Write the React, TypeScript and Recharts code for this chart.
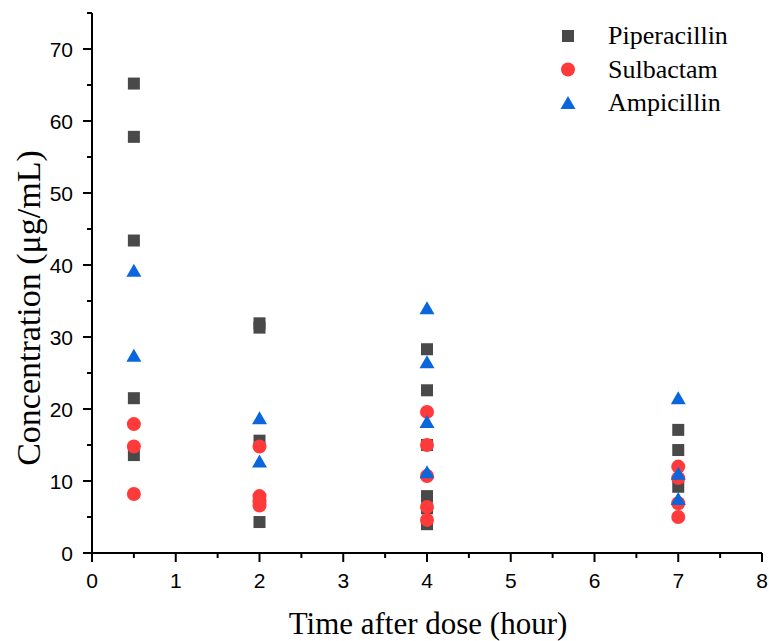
import { ScatterChart, Scatter, XAxis, YAxis, Legend, Label } from 'recharts';

const piperacillin = [
  { time: 0.5, conc: 65.2 }, { time: 0.5, conc: 57.8 }, { time: 0.5, conc: 43.4 },
  { time: 0.5, conc: 21.5 }, { time: 0.5, conc: 13.6 },
  { time: 2, conc: 31.9 }, { time: 2, conc: 31.3 }, { time: 2, conc: 15.6 }, { time: 2, conc: 4.3 },
  { time: 4, conc: 28.3 }, { time: 4, conc: 22.6 }, { time: 4, conc: 15.0 },
  { time: 4, conc: 7.9 }, { time: 4, conc: 6.2 }, { time: 4, conc: 4.0 },
  { time: 7, conc: 17.1 }, { time: 7, conc: 14.3 }, { time: 7, conc: 9.2 },
];

const sulbactam = [
  { time: 0.5, conc: 17.9 }, { time: 0.5, conc: 14.8 }, { time: 0.5, conc: 8.2 },
  { time: 2, conc: 14.8 }, { time: 2, conc: 7.9 }, { time: 2, conc: 7.2 }, { time: 2, conc: 6.6 },
  { time: 4, conc: 19.6 }, { time: 4, conc: 15.0 }, { time: 4, conc: 10.7 },
  { time: 4, conc: 6.4 }, { time: 4, conc: 4.6 },
  { time: 7, conc: 12.0 }, { time: 7, conc: 10.4 }, { time: 7, conc: 6.9 }, { time: 7, conc: 5.0 },
];

const ampicillin = [
  { time: 0.5, conc: 39.2 }, { time: 0.5, conc: 27.4 },
  { time: 2, conc: 18.7 }, { time: 2, conc: 12.7 },
  { time: 4, conc: 34.0 }, { time: 4, conc: 26.5 }, { time: 4, conc: 18.2 }, { time: 4, conc: 11.2 },
  { time: 7, conc: 21.5 }, { time: 7, conc: 11.0 }, { time: 7, conc: 7.5 },
];

const seriesNames = ['Piperacillin', 'Sulbactam', 'Ampicillin'];
const xTicks = [0, 0.5, 1, 1.5, 2, 2.5, 3, 3.5, 4, 4.5, 5, 5.5, 6, 6.5, 7, 7.5, 8];
const yTicks = [0, 5, 10, 15, 20, 25, 30, 35, 40, 45, 50, 55, 60, 65, 70, 75];

const GRAY = '#494949';
const RED = '#FF3A3A';
const BLUE = '#0A66DD';

const SERIF = '"Liberation Serif", "Times New Roman", serif';
const SANS = '"Liberation Sans", Arial, sans-serif';

const Marker = ({ kind, cx, cy, color }: { kind: string; cx: number; cy: number; color: string }) => {
  if (kind === 'square') return <rect x={cx - 6} y={cy - 6} width={12} height={12} fill={color} />;
  if (kind === 'circle') return <circle cx={cx} cy={cy} r={7} fill={color} />;
  return <polygon points={`${cx},${cy - 7} ${cx - 7.5},${cy + 6} ${cx + 7.5},${cy + 6}`} fill={color} />;
};

const XTick = (props: any) => {
  const { x, y, payload } = props;
  const major = Number.isInteger(payload.value);
  return (
    <g>
      <line x1={x} x2={x} y1={y} y2={y + (major ? 9 : 5)} stroke="#000" strokeWidth={2} />
      {major && (
        <text x={x} y={y + 35} textAnchor="middle" fontFamily={SANS} fontSize={21} fill="#000">
          {payload.value}
        </text>
      )}
    </g>
  );
};

const YTick = (props: any) => {
  const { x, y, payload } = props;
  const major = payload.value % 10 === 0;
  return (
    <g>
      <line x1={x - (major ? 9 : 5)} x2={x} y1={y} y2={y} stroke="#000" strokeWidth={2} />
      {major && (
        <text x={x - 19} y={y + 7.5} textAnchor="end" fontFamily={SANS} fontSize={21} fill="#000">
          {payload.value}
        </text>
      )}
    </g>
  );
};

const renderLegend = (props: any) => {
  const items = [...(props.payload || [])].sort(
    (a: any, b: any) => seriesNames.indexOf(a.value) - seriesNames.indexOf(b.value)
  );
  return (
    <svg width={230} height={125} style={{ display: 'block' }}>
      {items.map((p: any, i: number) => (
        <g key={p.value}>
          <Marker kind={p.type} cx={28} cy={26 + i * 33.5} color={p.color} />
          <text x={68} y={34 + i * 33.5} fontFamily={SERIF} fontSize={26} fill="#000">
            {p.value}
          </text>
        </g>
      ))}
    </svg>
  );
};

export default function App() {
  return (
    <div style={{ position: 'absolute', left: 0, top: 0, background: '#fff' }}>
      <ScatterChart width={769} height={641} margin={{ top: 13, right: 7, bottom: 0, left: 0 }}>
        <XAxis
          type="number"
          dataKey="time"
          domain={[0, 8]}
          ticks={xTicks}
          interval={0}
          tickSize={0}
          tickMargin={0}
          tickLine={false}
          tick={<XTick />}
          axisLine={{ stroke: '#000', strokeWidth: 2 }}
          height={88}
          allowDataOverflow
        >
          <Label
            content={() => (
              <text x={428} y={634} textAnchor="middle" fontFamily={SERIF} fontSize={31} fill="#000">
                Time after dose (hour)
              </text>
            )}
          />
        </XAxis>
        <YAxis
          type="number"
          dataKey="conc"
          domain={[0, 75]}
          ticks={yTicks}
          interval={0}
          tickSize={0}
          tickMargin={0}
          tickLine={false}
          tick={<YTick />}
          axisLine={{ stroke: '#000', strokeWidth: 2 }}
          width={92}
          allowDataOverflow
        >
          <Label
            content={() => (
              <text
                x={40}
                y={308}
                transform="rotate(-90 40 308)"
                textAnchor="middle"
                fontFamily={SERIF}
                fontSize={34}
                fill="#000"
              >
                Concentration (μg/mL)
              </text>
            )}
          />
        </YAxis>
        <Legend
          layout="vertical"
          align="center"
          verticalAlign="middle"
          content={renderLegend}
          wrapperStyle={{ position: 'absolute', left: 540, top: 10, width: 230 }}
        />
        <Scatter
          name="Piperacillin"
          data={piperacillin}
          fill={GRAY}
          legendType="square"
          isAnimationActive={false}
          shape={(p: any) => <Marker kind="square" cx={p.cx} cy={p.cy} color={GRAY} />}
        />
        <Scatter
          name="Sulbactam"
          data={sulbactam}
          fill={RED}
          legendType="circle"
          isAnimationActive={false}
          shape={(p: any) => <Marker kind="circle" cx={p.cx} cy={p.cy} color={RED} />}
        />
        <Scatter
          name="Ampicillin"
          data={ampicillin}
          fill={BLUE}
          legendType="triangle"
          isAnimationActive={false}
          shape={(p: any) => <Marker kind="triangle" cx={p.cx} cy={p.cy} color={BLUE} />}
        />
      </ScatterChart>
    </div>
  );
}
